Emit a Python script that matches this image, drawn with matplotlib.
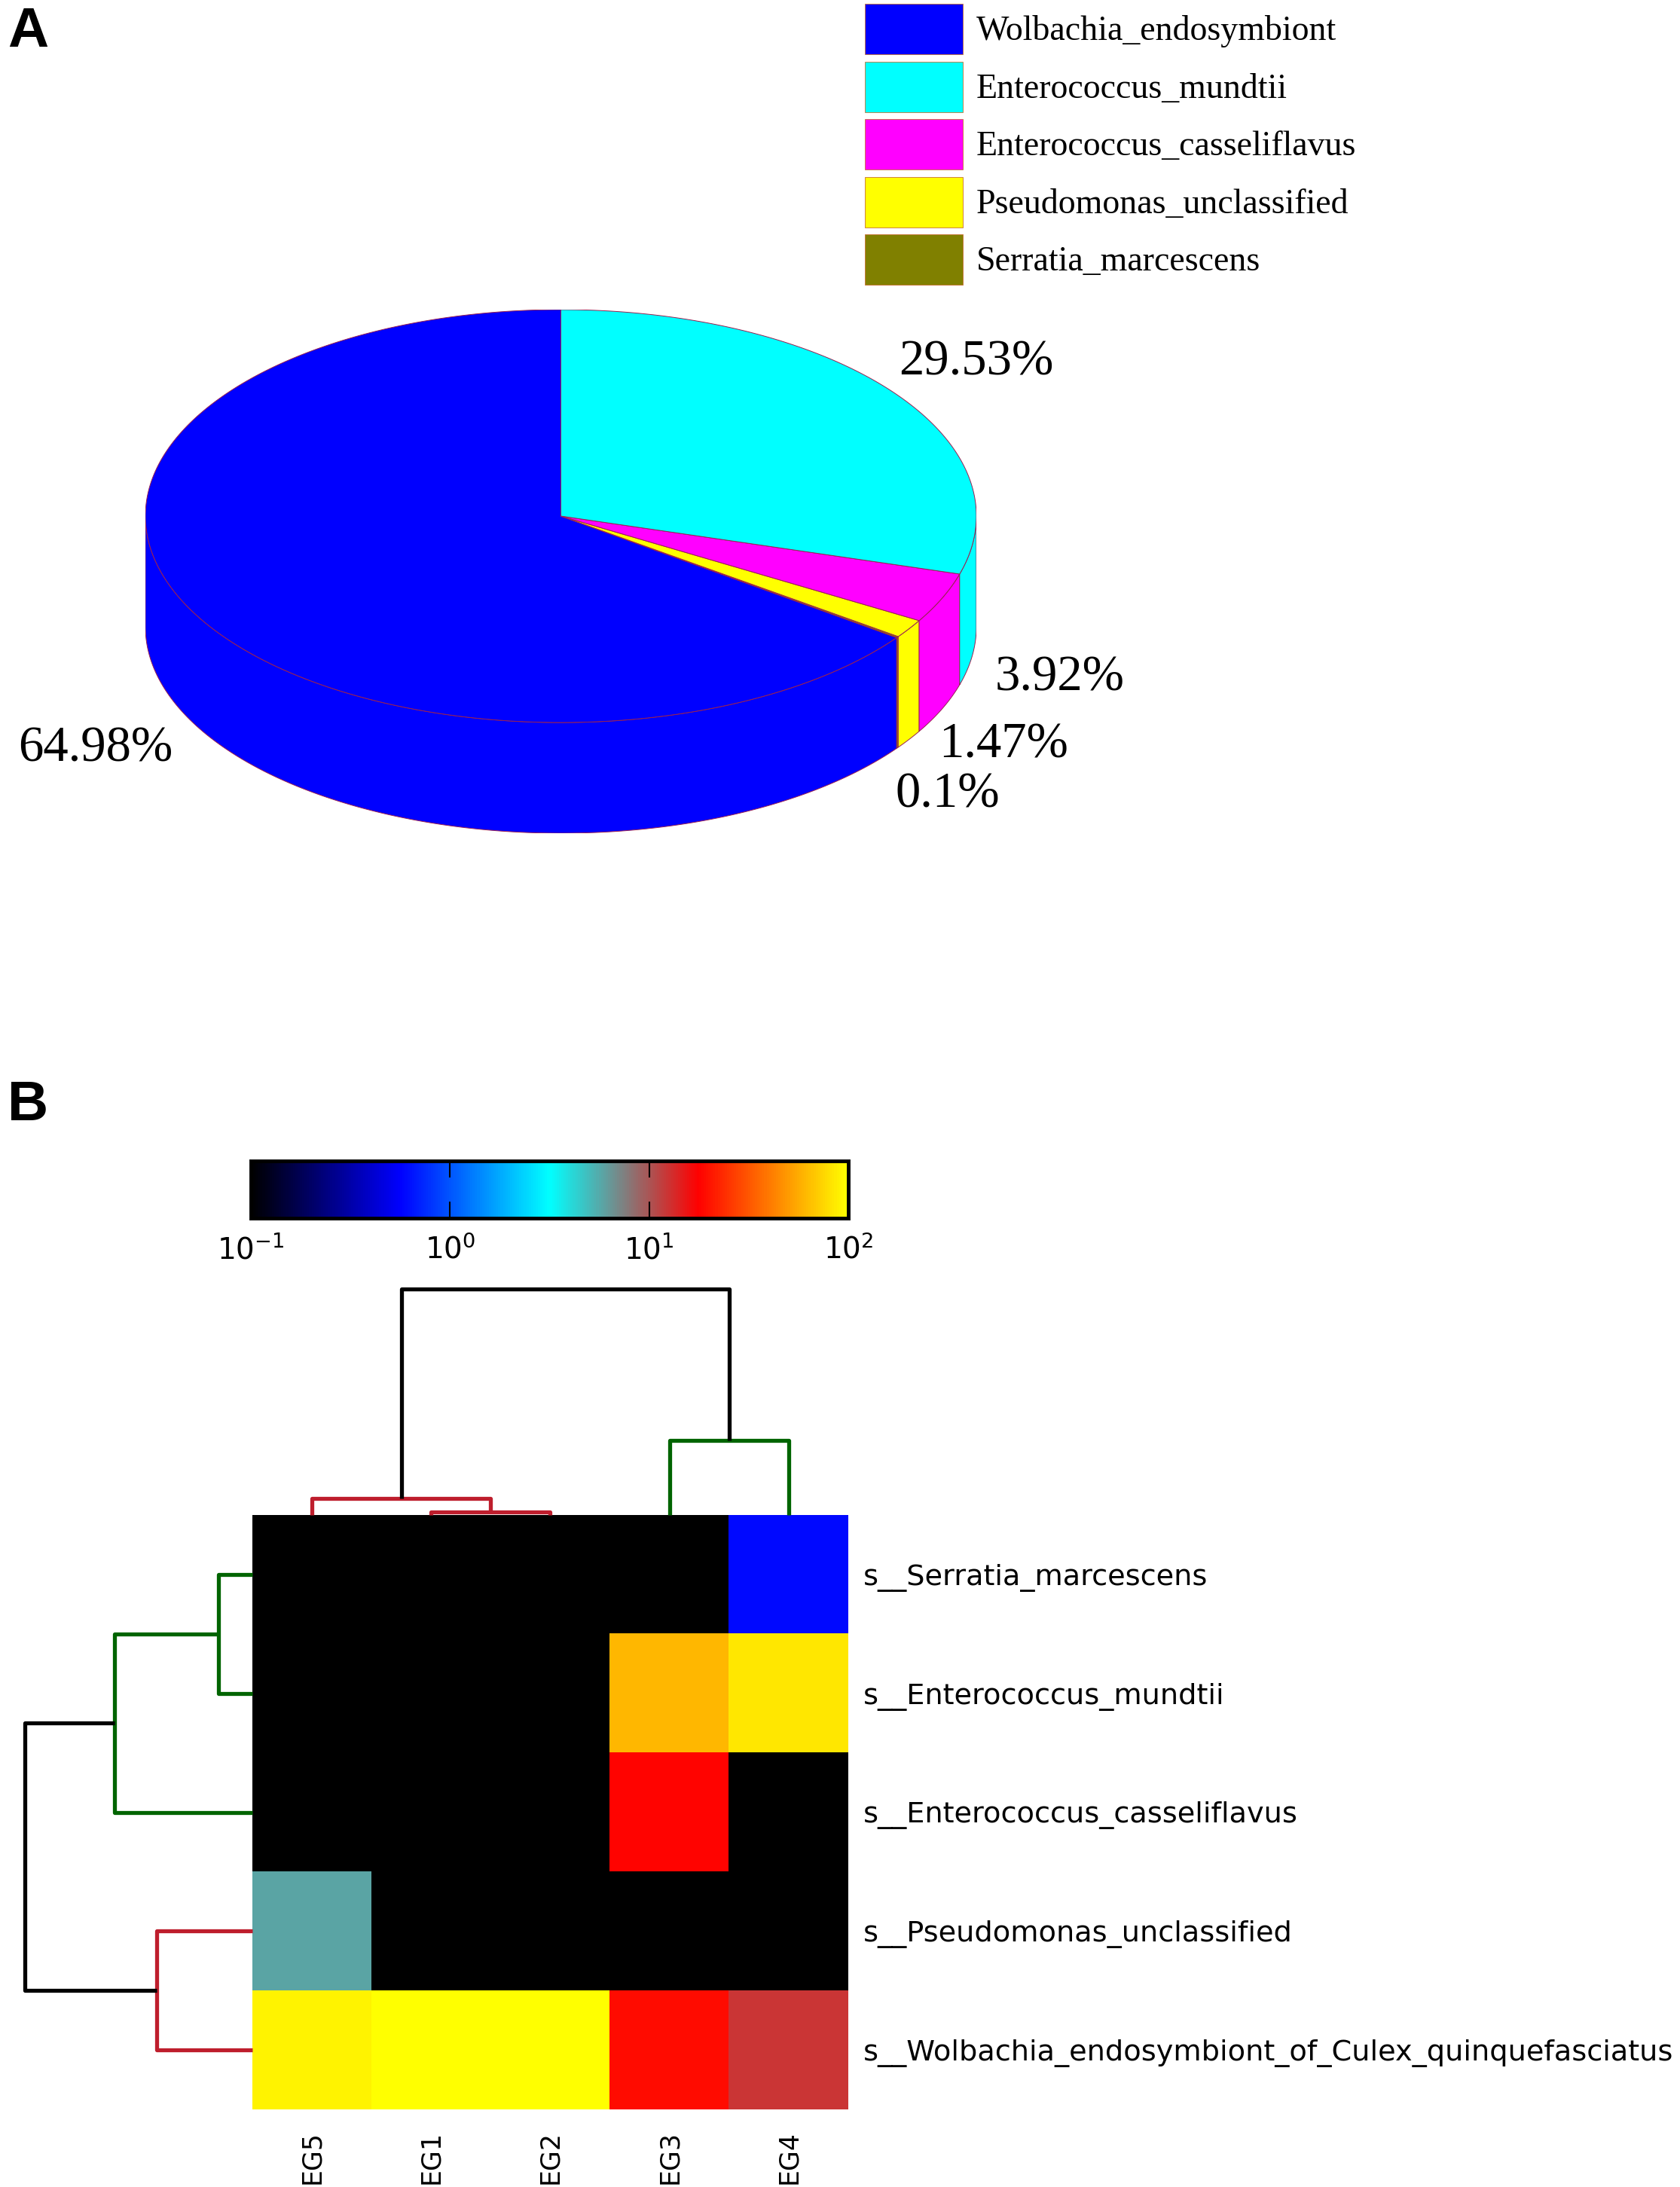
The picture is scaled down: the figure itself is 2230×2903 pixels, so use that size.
import numpy as np
import matplotlib
matplotlib.use("Agg")
import matplotlib.pyplot as plt
from matplotlib.patches import Polygon, Patch
from matplotlib.colors import LinearSegmentedColormap, LogNorm

# ---- panel A data (legend order) ----
species = ["Wolbachia_endosymbiont", "Enterococcus_mundtii",
           "Enterococcus_casseliflavus", "Pseudomonas_unclassified",
           "Serratia_marcescens"]
pie_pct = [64.98, 29.53, 3.92, 1.47, 0.1]
pie_colors = ["#0000ff", "#00ffff", "#ff00ff", "#ffff00", "#808000"]
pie_text = ["64.98%", "29.53%", "3.92%", "1.47%", "0.1%"]
# counter-clockwise drawing order starting at 12 o'clock
pie_order = [0, 4, 3, 2, 1]
# label centres in pie units (radius = 1)
pie_label_xy = [(-1.12, -0.56), (1.0, 0.37), (1.2, -0.39), (1.065, -0.55), (0.93, -0.67)]

# ---- panel B data ----
samples = ["EG5", "EG1", "EG2", "EG3", "EG4"]
taxa = ["s__Serratia_marcescens", "s__Enterococcus_mundtii",
        "s__Enterococcus_casseliflavus", "s__Pseudomonas_unclassified",
        "s__Wolbachia_endosymbiont_of_Culex_quinquefasciatus"]
abund = np.array([
    [0, 0, 0, 0, 0.6],
    [0, 0, 0, 60, 84],
    [0, 0, 0, 18, 0],
    [5.8, 0, 0, 0, 0],
    [90, 99, 99, 19, 12.2],
])
# dendrogram merges: (node_a, node_b), height, colour
col_merges = [(1, 2), (0, 5), (3, 4), (6, 7)]
col_heights = [0.13, 0.72, 3.3, 10.0]
col_colors = ["#be1e2d", "#be1e2d", "#006400", "black"]
row_merges = [(0, 1), (2, 5), (3, 4), (6, 7)]
row_heights = [1.5, 6.05, 4.2, 10.0]
row_colors = ["#006400", "#006400", "#be1e2d", "black"]

W, H = 2230, 2903
fig = plt.figure(figsize=(W / 100, H / 100), dpi=100)


def fbox(x0, y0, x1, y1):
    # pixel box (top-left origin) -> figure fraction rect
    return [x0 / W, 1 - y1 / H, (x1 - x0) / W, (y1 - y0) / H]


# ================= A: 3D pie =================
sq = 0.496      # vertical squash of the top ellipse
depth = 0.266   # height of the cylinder wall
axA = fig.add_axes(fbox(193, 411, 1296, 1106))
axA.set_xlim(-1, 1)
axA.set_ylim(-(sq + depth), sq)
axA.axis("off")

fr = np.array([pie_pct[k] for k in pie_order]) / 100.0
bounds = 90 + 360 * np.concatenate([[0], np.cumsum(fr)])
edge = dict(edgecolor="#9a2050", linewidth=0.7)
for j, k in enumerate(pie_order):
    a0, a1 = bounds[j], bounds[j + 1]
    # front wall (visible between 180 and 360 deg)
    lo, hi = max(a0, 180), min(a1, 360)
    if hi > lo:
        t = np.radians(np.linspace(lo, hi, 200))
        top = np.c_[np.cos(t), sq * np.sin(t)]
        bot = np.c_[np.cos(t), sq * np.sin(t) - depth][::-1]
        axA.add_patch(Polygon(np.vstack([top, bot]), closed=True,
                              facecolor=pie_colors[k], zorder=1, **edge))
    t = np.radians(np.linspace(a0, a1, 300))
    pts = np.vstack([[0, 0], np.c_[np.cos(t), sq * np.sin(t)]])
    axA.add_patch(Polygon(pts, closed=True, facecolor=pie_colors[k],
                          zorder=2, **edge))

for txt, (x, y) in zip(pie_text, pie_label_xy):
    axA.text(x, y, txt, ha="center", va="center", fontsize=48,
             family="Liberation Serif", clip_on=False)

handles = [Patch(facecolor=c, edgecolor="#c87030", linewidth=0.6) for c in pie_colors]
fig.legend(handles, species, loc="upper left",
           bbox_to_anchor=(1148 / W, 1 - 5 / H), frameon=False,
           prop={"family": "Liberation Serif", "size": 33},
           handlelength=2.84, handleheight=1.87, labelspacing=0.21,
           handletextpad=0.39, borderpad=0, borderaxespad=0)

fig.text(10 / W, 1 - 8 / H, "A", fontsize=54, fontweight="bold",
         family="Liberation Sans", ha="left", va="top")
fig.text(10 / W, 1 - 1433 / H, "B", fontsize=54, fontweight="bold",
         family="Liberation Sans", ha="left", va="top")

# ================= B: heatmap =================
cmap = LinearSegmentedColormap.from_list(
    "abund", [(0, "black"), (0.25, "blue"), (0.5, "cyan"),
              (0.75, "red"), (1.0, "yellow")])
norm = LogNorm(vmin=0.1, vmax=100)

axH = fig.add_axes(fbox(335, 2011, 1126, 2800))
im = axH.imshow(np.clip(abund, 0.1, 100), cmap=cmap, norm=norm,
                aspect="auto", extent=(0, 5, 5, 0), interpolation="nearest")
axH.set_xticks(np.arange(5) + 0.5)
axH.set_xticklabels(samples, rotation=90, fontsize=25)
axH.set_yticks(np.arange(5) + 0.5)
axH.set_yticklabels(taxa, fontsize=27.5)
axH.yaxis.tick_right()
axH.tick_params(axis="both", length=0)
axH.tick_params(axis="x", pad=20)
axH.tick_params(axis="y", pad=14)
for s in axH.spines.values():
    s.set_visible(False)


def draw_tree(ax, merges, heights, colors, sideways):
    pos = list(np.arange(5) + 0.5)
    hgt = [0.0] * 5
    for (a, b), h, c in zip(merges, heights, colors):
        xs = [pos[a], pos[a], pos[b], pos[b]]
        ys = [hgt[a], h, h, hgt[b]]
        if sideways:
            ax.plot(ys, xs, color=c, lw=3.8, clip_on=False, solid_capstyle="butt")
        else:
            ax.plot(xs, ys, color=c, lw=3.8, clip_on=False, solid_capstyle="butt")
        pos.append((pos[a] + pos[b]) / 2)
        hgt.append(h)


axT = fig.add_axes(fbox(335, 1711, 1126, 2011))
axT.set_xlim(0, 5)
axT.set_ylim(0, max(col_heights))
axT.axis("off")
draw_tree(axT, col_merges, col_heights, col_colors, sideways=False)

axL = fig.add_axes(fbox(33, 2011, 335, 2800))
axL.set_xlim(max(row_heights), 0)
axL.set_ylim(5, 0)
axL.axis("off")
draw_tree(axL, row_merges, row_heights, row_colors, sideways=True)

# colorbar
cax = fig.add_axes(fbox(333, 1541, 1126, 1617))
cb = fig.colorbar(im, cax=cax, orientation="horizontal", ticks=[0.1, 1, 10, 100])
cb.minorticks_off()
cb.outline.set_linewidth(3.5)
cax.tick_params(axis="x", direction="in", length=16, width=1.5,
                top=True, bottom=True, labelsize=28, pad=16)

fig.savefig("out.png", dpi=100)
